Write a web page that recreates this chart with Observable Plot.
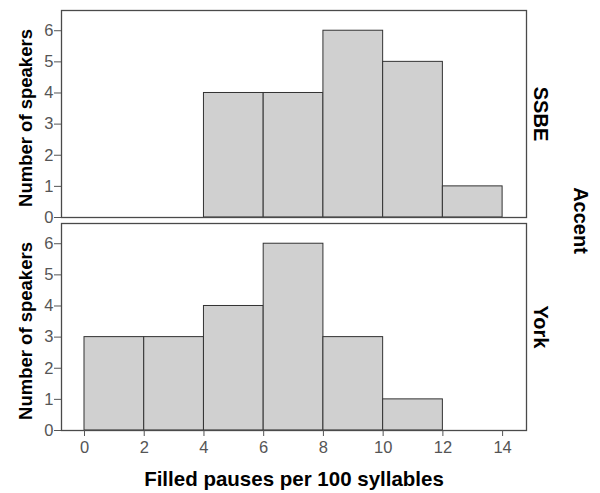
<!DOCTYPE html>
<html><head><meta charset="utf-8">
<script src="https://cdn.jsdelivr.net/npm/d3@7"></script>
<script src="https://cdn.jsdelivr.net/npm/@observablehq/plot@0.6"></script>
<style>
body{margin:0;background:#fff;font-family:"Liberation Sans",Arial,sans-serif}
</style>
</head><body><div id="chart"></div>
<script>
const accents = ["SSBE", "York"];
const binStarts = [0, 2, 4, 6, 8, 10, 12];
const binWidth = 2;
const ssbeCounts = [0, 0, 4, 4, 6, 5, 1];
const yorkCounts = [3, 3, 4, 6, 3, 1, 0];
const xTicks = [0, 2, 4, 6, 8, 10, 12, 14];
const yTicks = [0, 1, 2, 3, 4, 5, 6];
const xTitle = "Filled pauses per 100 syllables";
const yTitle = "Number of speakers";
const facetTitle = "Accent";

const rows = [];
[ssbeCounts, yorkCounts].forEach((counts, i) => {
  counts.forEach((c, j) => {
    if (c > 0) rows.push({accent: accents[i], x1: binStarts[j], x2: binStarts[j] + binWidth, count: c});
  });
});

const boldText = {fontWeight: "bold", fill: "#000", textAnchor: "middle", lineAnchor: "middle"};

const plot = Plot.plot({
  width: 600,
  height: 493,
  marginLeft: 61,
  marginRight: 74,
  marginTop: 9,
  marginBottom: 62,
  style: {fontFamily: '"Liberation Sans", Arial, sans-serif', background: "#fff"},
  x: {domain: [-0.77, 14.8], axis: null},
  y: {domain: [0, 6.65], axis: null},
  fy: {domain: accents, padding: 0.028, axis: null},
  marks: [
    Plot.rectY(rows, {x1: "x1", x2: "x2", y: "count", fy: "accent", fill: "#d0d0d0", stroke: "#333", strokeWidth: 1}),
    Plot.frame({stroke: "#4a4a4a", strokeWidth: 1.3}),
    Plot.axisY({ticks: yTicks, tickFormat: d3.format("d"), tickSize: 7, tickPadding: 1, fontSize: 16.5, color: "#555", label: null}),
    Plot.axisX({ticks: xTicks, tickFormat: d3.format("d"), tickSize: 6, tickPadding: 5, fontSize: 16.5, color: "#555", label: null}),
    Plot.text(accents, {...boldText, fy: d => d, text: () => yTitle, frameAnchor: "left", dx: -35.5, dy: 4, rotate: -90, fontSize: 18.5}),
    Plot.text(accents, {...boldText, fy: d => d, text: d => d, frameAnchor: "right", dx: 14, rotate: 90, fontSize: 20}),
    Plot.text(["SSBE"], {...boldText, fy: d => d, text: () => facetTitle, frameAnchor: "bottom-right", dx: 53.5, dy: 3, rotate: 90, fontSize: 20}),
    Plot.text(["York"], {...boldText, fy: d => d, text: () => xTitle, frameAnchor: "bottom", dy: 49, fontSize: 20.5})
  ]
});
document.getElementById("chart").appendChild(plot);
</script>
</body></html>
